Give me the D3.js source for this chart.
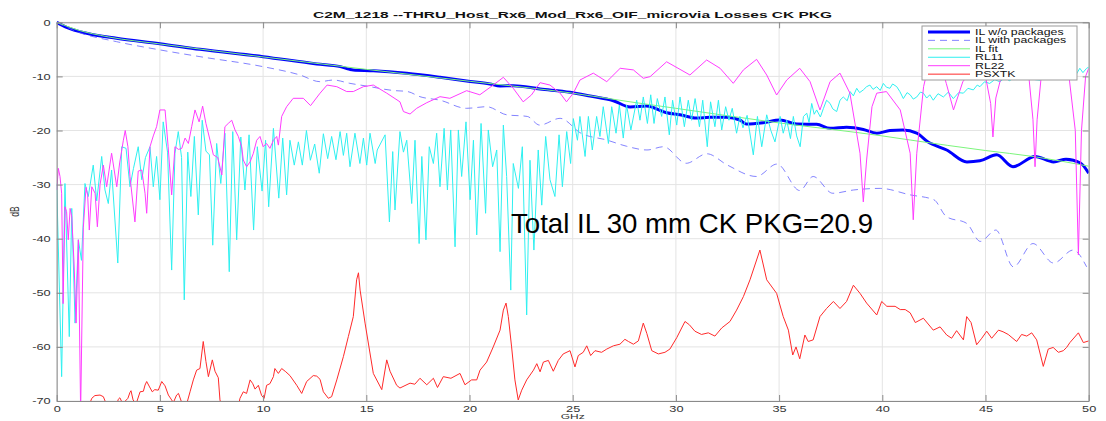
<!DOCTYPE html>
<html lang="en">
<head>
<meta charset="UTF-8">
<meta name="viewport" content="width=device-width, initial-scale=1.0">
<title>C2M_1218 Losses CK PKG</title>
<style>
    body {
        margin: 0;
        padding: 0;
        background: #fff;
    }

    #chart {
        display: block;
        font-family: "Liberation Sans", Arial, sans-serif;
    }
</style>
</head>
<body>
<svg id="chart" width="1106" height="421"></svg>

<script src="https://d3js.org/d3.v7.min.js"></script>
<script>
    var titleText = "C2M_1218 --THRU_Host_Rx6_Mod_Rx6_OIF_microvia Losses CK PKG";
    var noteText = "Total IL 30 mm CK PKG=20.9";
    var xLabel = "GHz";
    var yLabel = "dB";

    var xTicks = [0, 5, 10, 15, 20, 25, 30, 35, 40, 45, 50];
    var yTicks = [0, -10, -20, -30, -40, -50, -60, -70];

    var seriesNames = ["IL w/o packages", "IL with packages", "IL fit", "RL11", "RL22", "PSXTK"];

    // [GHz, dB]
    var ilNoPkg = [[0, 0], [0.48, -0.92], [1.45, -2.03], [2.9, -2.96], [5, -3.95], [6.94, -5.0], [10, -6.35],
        [12.6, -7.7], [13.74, -8.2], [14.2, -8.7], [14.37, -8.8], [15.34, -8.94], [16.96, -9.43], [18.57, -10.17],
        [19.86, -10.85], [20.99, -11.4], [21.48, -11.77], [22.12, -11.71], [23.42, -12.33], [24.87, -12.94],
        [25.84, -13.62], [26.97, -14.49], [27.78, -15.65], [28.57, -15.47], [29.55, -16.71], [30.2, -17.1],
        [31.0, -17.7], [31.65, -17.56], [32.46, -17.56], [33.1, -18.06], [33.4, -18.8], [34.23, -18.56],
        [35.04, -18.06], [35.85, -18.8], [36.82, -18.86], [37.47, -19.6], [38.27, -19.4], [39.08, -19.8],
        [39.73, -20.5], [40.37, -20.0], [41.0, -19.9], [41.67, -20.5], [42.2, -22.1], [43.12, -23.6],
        [44.1, -25.8], [44.73, -25.6], [45.54, -24.5], [46.33, -26.7], [47.4, -24.8], [48.3, -25.8],
        [48.9, -25.3], [49.6, -26.0], [50, -27.9]];

    var ilWithPkg = [[0, 0], [0.97, -1.73], [2.9, -3.58], [5, -5.1], [6.94, -6.35], [10, -8.2], [11.79, -9.74],
        [12.75, -10.97], [13.4, -10.67], [14.2, -11.28], [15.0, -11.78], [16.3, -12.6], [17.0, -12.8],
        [17.6, -13.75], [18.57, -14.4], [19.86, -15.9], [20.83, -15.6], [21.8, -17.1], [22.8, -17.4],
        [23.4, -19.0], [24.39, -17.75], [25.4, -20.5], [26.65, -21.76], [27.6, -22.9], [28.6, -23.6],
        [29.4, -23.0], [30.5, -26.06], [31.5, -24.3], [32.5, -26.4], [33.9, -28.5], [34.9, -26.2],
        [36.0, -31.1], [36.65, -28.5], [37.6, -31.6], [38.6, -31.0], [39.9, -30.7], [41.35, -31.9],
        [42.5, -32.8], [43.1, -35.9], [44.1, -37.2], [44.75, -40.5], [45.5, -38.4], [46.35, -45.2],
        [47.3, -40.9], [48.3, -44.5], [49.25, -42.1], [49.9, -45.2]];

    var ilFit = [[0, 0], [1, -1.4], [2.5, -2.7], [5, -4.0], [10, -6.4], [15, -8.7], [20, -10.9], [25, -13.1],
        [27.78, -14.7], [30, -15.9], [35, -18.6], [40, -21.0], [41.35, -21.76], [45, -23.7], [47.3, -24.8],
        [50, -26.6]];

    var rl11 = [[0, -29.8], [0.24, -65.5], [0.4, -29.8], [0.61, -58.1], [0.73, -34.4], [0.89, -55.6], [1.05, -40.2],
        [1.2, -44.0], [1.37, -29.8], [1.53, -32.2], [1.77, -26.4], [1.94, -33.0], [2.18, -24.8], [2.34, -31.0],
        [2.5, -33.5], [2.66, -27.3], [2.96, -44.5], [3.15, -23.0], [3.36, -23.3], [3.55, -30.4], [3.72, -27.0],
        [3.95, -23.0], [4.12, -29.1], [4.3, -25.0], [4.52, -23.0], [4.68, -30.4], [4.84, -24.8], [5.0, -32.8],
        [5.16, -18.4], [5.37, -24.0], [5.57, -45.8], [5.73, -24.2], [5.89, -20.2], [6.05, -25.0], [6.18, -51.3],
        [6.35, -24.0], [6.5, -32.2], [6.67, -21.1], [6.86, -35.6], [7.05, -18.1], [7.23, -23.8], [7.4, -24.5],
        [7.56, -41.2], [7.75, -22.4], [7.95, -29.8], [8.15, -20.5], [8.36, -46.1], [8.53, -20.2], [8.72, -40.2],
        [8.92, -21.2], [9.12, -31.0], [9.32, -20.8], [9.54, -38.4], [9.72, -23.0], [9.95, -31.2], [10.12, -21.8],
        [10.27, -34.1], [10.5, -19.6], [10.76, -32.5], [10.95, -21.4], [11.14, -31.9], [11.3, -21.8],
        [11.51, -26.4], [11.71, -22.1], [11.9, -26.4], [12.1, -20.0], [12.29, -25.5], [12.5, -22.5],
        [12.72, -27.9], [12.92, -20.6], [13.13, -25.2], [13.32, -21.1], [13.53, -25.4], [13.73, -20.2],
        [13.89, -24.6], [14.05, -20.5], [14.21, -26.7], [14.45, -20.5], [14.69, -26.1], [14.86, -21.4],
        [15.02, -26.4], [15.18, -20.5], [15.43, -26.1], [15.53, -23.6], [15.91, -20.8], [16.12, -36.9],
        [16.28, -23.9], [16.39, -34.7], [16.63, -20.2], [16.8, -24.0], [16.96, -21.8], [17.2, -33.5],
        [17.36, -21.8], [17.56, -40.9], [17.69, -24.8], [17.89, -40.2], [18.05, -23.0], [18.25, -26.1],
        [18.41, -20.5], [18.57, -30.4], [18.77, -19.6], [18.93, -31.0], [19.09, -19.9], [19.3, -41.5],
        [19.46, -19.9], [19.62, -28.5], [19.83, -18.4], [20.03, -32.8], [20.19, -21.8], [20.35, -39.3],
        [20.56, -18.7], [20.78, -35.3], [20.91, -19.9], [21.12, -26.7], [21.32, -23.6], [21.48, -42.4],
        [21.64, -19.0], [21.8, -28.5], [22.0, -49.5], [22.12, -26.1], [22.37, -30.7], [22.56, -23.0],
        [22.77, -54.1], [22.93, -25.5], [23.12, -42.1], [23.33, -23.6], [23.5, -33.8], [23.69, -21.1],
        [23.9, -29.1], [24.14, -32.2], [24.34, -20.8], [24.5, -30.4], [24.71, -20.2], [24.9, -26.1],
        [25.03, -17.8], [25.23, -21.8], [25.35, -17.4], [25.6, -24.8], [25.76, -17.4], [25.95, -23.6],
        [26.16, -17.4], [26.32, -21.1], [26.48, -15.6], [26.73, -22.4], [26.89, -15.6], [27.1, -20.5],
        [27.26, -15.3], [27.45, -21.4], [27.61, -15.3], [27.82, -19.9], [28.1, -14.4], [28.26, -18.1],
        [28.42, -13.8], [28.62, -18.7], [28.78, -13.4], [28.94, -18.7], [29.1, -14.1], [29.31, -17.4],
        [29.47, -13.8], [29.68, -20.8], [29.84, -14.4], [30.04, -19.0], [30.2, -13.8], [30.41, -19.3],
        [30.6, -14.4], [30.76, -18.1], [30.93, -14.1], [31.14, -19.3], [31.3, -14.4], [31.52, -23.0],
        [31.68, -14.7], [31.89, -19.3], [32.06, -14.4], [32.22, -19.9], [32.41, -15.6], [32.57, -18.1],
        [32.73, -15.9], [32.94, -20.5], [33.1, -17.4], [33.25, -19.5], [33.45, -17.2], [33.75, -24.5],
        [33.95, -17.4], [34.16, -23.0], [34.4, -17.1], [34.6, -20.0], [34.8, -22.1], [35.05, -17.4],
        [35.2, -20.5], [35.37, -18.1], [35.55, -21.5], [35.69, -17.4], [35.85, -21.0], [36.02, -23.0],
        [36.18, -17.4], [36.34, -16.8], [36.45, -18.5], [36.58, -15.0], [36.7, -17.0], [36.82, -16.2],
        [37.0, -17.5], [37.15, -15.9], [37.3, -14.4], [37.47, -15.0], [37.6, -16.0], [37.79, -16.5],
        [37.95, -14.4], [38.11, -13.8], [38.3, -14.5], [38.44, -12.8], [38.6, -13.6], [38.76, -12.2],
        [38.9, -13.0], [39.08, -12.5], [39.24, -11.9], [39.4, -11.6], [39.55, -12.4], [39.73, -11.9],
        [39.9, -12.6], [40.05, -11.3], [40.2, -12.0], [40.37, -12.2], [40.5, -11.4], [40.7, -11.9],
        [40.85, -12.8], [41.02, -14.1], [41.2, -13.0], [41.35, -13.4], [41.5, -14.2], [41.67, -13.8],
        [41.85, -12.9], [41.99, -13.1], [42.15, -14.0], [42.3, -13.4], [42.47, -14.4], [42.7, -13.2],
        [42.96, -13.8], [43.2, -12.9], [43.44, -14.1], [43.7, -13.0], [43.93, -13.1], [44.15, -12.2],
        [44.41, -12.5], [44.6, -11.6], [44.73, -11.9], [44.95, -11.0], [45.2, -11.3], [45.45, -10.6],
        [45.7, -11.0], [45.95, -10.2], [46.15, -10.8], [46.35, -10.4], [46.6, -9.8], [46.8, -10.5],
        [47.0, -10.1], [47.2, -9.7], [47.4, -10.6], [47.64, -10.7], [47.85, -9.8], [48.05, -10.3],
        [48.28, -9.7], [48.5, -10.2], [48.7, -9.4], [48.93, -9.6], [49.1, -8.6], [49.25, -8.8], [49.4, -9.6],
        [49.57, -8.5], [49.72, -9.3], [49.9, -8.5], [50, -8.3]];

    var rl22 = [[0, -31.0], [0.08, -27.0], [0.16, -28.5], [0.24, -31.6], [0.31, -52.0], [0.4, -34.1],
        [0.48, -35.0], [0.56, -40.2], [0.65, -34.4], [0.73, -36.0], [0.84, -44.5], [0.94, -55.6], [1.05, -40.2],
        [1.16, -72], [1.29, -38.0], [1.42, -30.5], [1.5, -32.0], [1.58, -38.4], [1.7, -30.4], [1.86, -31.6],
        [1.97, -37.8], [2.1, -30.0], [2.26, -26.4], [2.42, -30.4], [2.66, -24.2], [2.91, -30.4], [3.05, -26.0],
        [3.23, -21.8], [3.32, -20.0], [3.45, -23.0], [3.55, -28.5], [3.79, -36.9], [3.95, -27.5], [4.12, -27.3],
        [4.28, -31.6], [4.36, -35.3], [4.52, -23.0], [4.68, -21.0], [4.84, -19.3], [5.0, -16.2], [5.25, -16.2],
        [5.4, -23.0], [5.57, -31.9], [5.73, -23.0], [5.9, -23.5], [6.06, -23.3], [6.22, -21.4], [6.38, -22.4],
        [6.54, -19.3], [6.7, -16.2], [6.9, -18.4], [7.07, -15.5], [7.23, -18.7], [7.43, -21.8], [7.59, -24.5],
        [7.8, -25.0], [8.0, -28.2], [8.15, -19.3], [8.31, -18.7], [8.48, -18.1], [8.64, -19.9], [8.8, -21.1],
        [8.96, -23.0], [9.04, -25.45], [9.2, -26.7], [9.37, -25.8], [9.53, -24.2], [9.69, -21.8], [9.85, -21.1],
        [10.0, -23.0], [10.17, -22.4], [10.33, -23.3], [10.5, -21.8], [10.66, -21.1], [10.74, -22.7],
        [10.9, -17.4], [11.14, -15.6], [11.46, -14.05], [11.95, -14.05], [12.3, -15.4], [12.76, -13.1],
        [13.1, -11.6], [13.57, -11.9], [14.05, -12.8], [14.37, -12.8], [14.86, -11.9], [15.34, -11.6],
        [15.99, -13.1], [16.63, -14.7], [16.8, -16.5], [17.12, -16.95], [17.44, -15.9], [17.93, -14.86],
        [18.57, -13.75], [19.05, -14.05], [19.86, -12.64], [20.5, -13.4], [21.15, -11.6], [21.64, -10.17],
        [22.12, -12.2], [22.6, -14.7], [23.0, -13.44], [23.42, -11.16], [23.9, -11.6], [24.39, -13.1],
        [24.7, -14.7], [25.03, -13.1], [25.35, -10.67], [26.0, -9.4], [26.65, -10.97], [27.3, -8.5],
        [27.94, -8.8], [28.42, -10.35], [28.75, -10.05], [29.55, -7.3], [30.2, -8.7], [30.68, -9.74],
        [31.49, -6.97], [32.14, -8.5], [32.78, -11.28], [33.27, -8.8], [33.91, -6.85], [34.4, -9.74],
        [34.88, -13.44], [35.37, -10.67], [36.0, -8.5], [36.5, -10.97], [36.98, -16.2], [37.47, -10.97],
        [37.95, -9.4], [38.43, -13.1], [38.92, -24.2], [39.08, -33.2], [39.24, -25.45], [39.5, -15.6],
        [39.73, -13.1], [40.2, -12.8], [40.87, -16.2], [41.35, -24.2], [41.5, -36.5], [41.67, -24.2],
        [42.0, -11.9], [42.3, -6.97], [42.7, -6.0], [43.1, -11.3], [43.45, -16.2], [43.9, -11.0], [44.5, -8.0],
        [45.0, -10.0], [45.25, -15.0], [45.36, -21.2], [45.5, -14.0], [45.8, -9.5], [46.5, -7.0], [47.1, -10.0],
        [47.3, -18.0], [47.4, -26.7], [47.5, -18.0], [47.7, -10.0], [48.3, -6.5], [49.0, -8.5], [49.35, -20.0],
        [49.5, -43.0], [49.65, -20.0], [49.85, -10.0], [50, -8.5]];

    var psxtk = [[1.55, -71], [1.7, -69.5], [1.85, -69.0], [2.1, -68.9], [2.26, -69.2], [2.45, -71], [2.9, -71],
        [2.98, -69.7], [3.06, -69.4], [3.2, -70.5], [3.45, -69.5], [3.55, -68.4], [3.6, -68.1], [3.7, -69.8],
        [3.85, -70.5], [4.04, -68.3], [4.2, -68.2], [4.28, -67.05], [4.36, -66.4], [4.5, -67.4], [4.63, -68.3],
        [4.75, -67.9], [4.92, -68.0], [5.09, -66.4], [5.25, -67.2], [5.41, -68.9], [5.57, -69.8], [5.65, -70.3],
        [5.81, -68.9], [5.9, -68.6], [6.05, -70.2], [6.3, -70.5], [6.46, -68.3], [6.62, -66.1], [6.78, -64.3],
        [6.94, -64.0], [7.1, -59.0], [7.23, -62.7], [7.35, -65.5], [7.54, -62.4], [7.67, -64.5], [7.83, -65.7],
        [7.91, -69.8], [8.0, -71], [8.8, -71], [8.88, -69.5], [9.04, -68.3], [9.2, -68.6], [9.37, -66.1],
        [9.5, -66.8], [9.61, -67.8], [9.77, -67.1], [9.93, -69.0], [10.05, -69.5], [10.17, -67.1],
        [10.33, -66.8], [10.5, -65.5], [10.57, -64.0], [10.74, -64.9], [10.9, -64.0], [11.1, -64.6],
        [11.3, -65.3], [11.63, -67.1], [11.87, -68.6], [12.11, -66.4], [12.43, -65.3], [12.6, -65.4],
        [12.76, -66.0], [12.92, -68.3], [13.16, -69.5], [13.32, -69.2], [13.57, -66.1], [13.89, -61.8],
        [14.13, -58.1], [14.37, -54.4], [14.53, -47.6], [14.62, -46.3], [14.7, -49.5], [14.94, -55.6],
        [15.34, -64.9], [15.75, -67.9], [15.99, -62.4], [16.15, -64.5], [16.47, -67.1], [16.63, -67.6],
        [17.12, -66.7], [17.35, -66.9], [17.6, -65.8], [17.93, -67.0], [18.25, -65.8], [18.45, -67.5],
        [18.73, -65.5], [19.1, -65.8], [19.54, -64.9], [19.78, -67.0], [20.1, -66.1], [20.35, -66.1],
        [20.51, -64.3], [20.83, -62.8], [21.15, -60.0], [21.48, -56.9], [21.64, -53.2], [21.77, -51.9],
        [21.88, -54.4], [22.04, -60.0], [22.2, -66.1], [22.36, -69.8], [22.53, -68.0], [22.77, -66.1],
        [23.1, -64.3], [23.26, -63.1], [23.42, -64.6], [23.58, -62.8], [23.82, -62.5], [24.06, -64.5],
        [24.3, -62.5], [24.54, -61.3], [24.87, -60.7], [25.11, -63.7], [25.27, -61.6], [25.51, -61.0],
        [25.68, -59.8], [25.87, -61.6], [26.08, -60.7], [26.4, -61.0], [26.65, -60.4], [26.97, -59.8],
        [27.29, -59.5], [27.53, -58.6], [27.7, -59.0], [27.94, -59.5], [28.18, -58.9], [28.42, -55.6],
        [28.59, -57.5], [28.83, -60.7], [29.15, -61.3], [29.47, -61.0], [29.71, -60.4], [30.04, -58.3],
        [30.44, -55.3], [30.65, -55.9], [30.92, -57.1], [31.24, -57.7], [31.57, -57.4], [31.89, -58.0],
        [32.22, -56.5], [32.62, -55.3], [32.94, -53.2], [33.27, -50.7], [33.59, -47.6], [34.07, -42.1],
        [34.4, -47.6], [34.88, -50.1], [35.2, -54.4], [35.45, -56.9], [35.66, -61.5], [35.82, -60.0],
        [36.0, -62.2], [36.25, -57.8], [36.41, -59.0], [36.65, -58.7], [36.98, -54.4], [37.3, -52.9],
        [37.63, -51.6], [37.95, -52.9], [38.27, -51.6], [38.6, -48.6], [38.92, -50.1], [39.24, -51.9],
        [39.73, -54.1], [39.97, -51.6], [40.22, -52.5], [40.62, -52.5], [40.87, -53.1], [41.11, -53.1],
        [41.35, -53.7], [41.6, -55.5], [41.99, -54.7], [42.47, -56.9], [42.8, -56.3], [43.12, -57.8],
        [43.36, -58.4], [43.6, -57.0], [43.93, -58.7], [44.09, -54.4], [44.3, -55.5], [44.57, -59.6],
        [44.82, -58.4], [45.06, -57.1], [45.3, -58.4], [45.63, -56.9], [45.85, -57.2], [46.1, -57.7],
        [46.51, -59.0], [46.75, -57.7], [47.0, -58.0], [47.24, -57.4], [47.48, -58.7], [47.8, -63.6],
        [48.04, -60.4], [48.28, -60.1], [48.53, -61.0], [48.77, -60.7], [48.93, -60.1], [49.09, -59.2],
        [49.5, -57.4], [49.74, -59.2], [50, -58.9]];

    var seriesData = [ilNoPkg, ilWithPkg, ilFit, rl11, rl22, psxtk];
    var seriesStyle = [
        {color: "#0000ff", width: 3, dash: null, opacity: 1},
        {color: "#5a5aff", width: 1, dash: "7,5", opacity: 0.75},
        {color: "#7cf57c", width: 1, dash: null, opacity: 1},
        {color: "#2ef0f0", width: 1, dash: null, opacity: 1},
        {color: "#ff3cff", width: 1, dash: null, opacity: 1},
        {color: "#ff2a2a", width: 1, dash: null, opacity: 1}
    ];

    var plot = {left: 56.7, right: 1088.7, top: 22.3, bottom: 401};
    var textScale = 1.5;

    var svg = d3.select("#chart");

    var x = d3.scaleLinear().domain([0, 50]).range([plot.left, plot.right]);
    var y = d3.scaleLinear().domain([-70, 0]).range([plot.bottom, plot.top]);

    svg.append("defs").append("clipPath")
        .attr("id", "plot-clip")
        .append("rect")
        .attr("x", plot.left)
        .attr("y", plot.top - 1.5)
        .attr("width", plot.right - plot.left)
        .attr("height", plot.bottom - plot.top + 1.5);

    // grid
    var grid = svg.append("g").attr("class", "grid");
    grid.selectAll("line.gx").data(xTicks)
        .enter().append("line")
        .attr("x1", d => x(d)).attr("x2", d => x(d))
        .attr("y1", plot.top).attr("y2", plot.bottom)
        .attr("stroke", "#e4e4e4").attr("stroke-width", 1);
    grid.selectAll("line.gy").data(yTicks)
        .enter().append("line")
        .attr("x1", plot.left).attr("x2", plot.right)
        .attr("y1", d => y(d)).attr("y2", d => y(d))
        .attr("stroke", "#e4e4e4").attr("stroke-width", 1);

    // series
    var line = d3.line()
        .x(d => x(d[0]))
        .y(d => y(d[1]));

    var lines = svg.append("g").attr("clip-path", "url(#plot-clip)");
    seriesData.forEach(function (data, i) {
        var st = seriesStyle[i];
        lines.append("path")
            .datum(data)
            .attr("d", line.curve(i < 3 ? d3.curveMonotoneX : d3.curveLinear))
            .attr("fill", "none")
            .attr("stroke", st.color)
            .attr("stroke-width", st.width)
            .attr("stroke-opacity", st.opacity)
            .attr("stroke-dasharray", st.dash)
            .attr("stroke-linejoin", "round");
    });

    // axes, ticks pointing inward like matlab
    function styleAxis(g) {
        g.selectAll(".domain").attr("stroke", "#8a8a8a").attr("stroke-width", 1);
        g.selectAll(".tick line").attr("stroke", "#8a8a8a");
        g.selectAll("text")
            .attr("fill", "#333")
            .style("font-size", "8.5px")
            .attr("transform", "scale(" + textScale + ",1)");
    }

    var fmt = d => d3.format("d")(d).replace("\u2212", "-");

    svg.append("g")
        .attr("transform", "translate(0," + plot.bottom + ")")
        .call(d3.axisBottom(x).tickValues(xTicks).tickSizeInner(-6).tickSizeOuter(0).tickPadding(5).tickFormat(fmt))
        .call(styleAxis);

    svg.append("g")
        .attr("transform", "translate(" + plot.left + ",0)")
        .call(d3.axisLeft(y).tickValues(yTicks).tickSizeInner(-6).tickSizeOuter(0).tickPadding(4).tickFormat(fmt))
        .call(styleAxis);

    svg.append("g")
        .attr("transform", "translate(0," + plot.top + ")")
        .call(d3.axisTop(x).tickValues(xTicks).tickSizeInner(-6).tickSizeOuter(0).tickFormat(""))
        .call(styleAxis);

    svg.append("g")
        .attr("transform", "translate(" + plot.right + ",0)")
        .call(d3.axisRight(y).tickValues(yTicks).tickSizeInner(-6).tickSizeOuter(0).tickFormat(""))
        .call(styleAxis);

    // axis labels
    svg.append("text")
        .attr("transform", "translate(" + ((plot.left + plot.right) / 2) + ",418.5) scale(" + textScale + ",1)")
        .attr("text-anchor", "middle")
        .attr("fill", "#333")
        .style("font-size", "8px")
        .text(xLabel);

    svg.append("text")
        .attr("transform", "translate(19," + y(-35) + ") scale(" + textScale + ",1) rotate(-90)")
        .attr("text-anchor", "middle")
        .attr("fill", "#333")
        .style("font-size", "8.5px")
        .text(yLabel);

    // title
    svg.append("text")
        .attr("x", 313)
        .attr("y", 18.3)
        .attr("textLength", 519)
        .attr("lengthAdjust", "spacingAndGlyphs")
        .attr("fill", "#111")
        .style("font-size", "8.5px")
        .style("font-weight", "bold")
        .text(titleText);

    // annotation from the slide
    svg.append("text")
        .attr("x", 511)
        .attr("y", 233)
        .attr("textLength", 362)
        .attr("lengthAdjust", "spacingAndGlyphs")
        .attr("fill", "#000")
        .style("font-size", "27.5px")
        .text(noteText);

    // legend
    var legend = svg.append("g").attr("class", "legend");
    legend.append("rect")
        .attr("x", 922).attr("y", 26)
        .attr("width", 155).attr("height", 54)
        .attr("fill", "#fff")
        .attr("stroke", "#9a9a9a")
        .attr("stroke-width", 1);

    seriesNames.forEach(function (name, i) {
        var st = seriesStyle[i];
        var ly = 31.9 + i * 8.45;
        legend.append("line")
            .attr("x1", 928).attr("x2", 970)
            .attr("y1", ly).attr("y2", ly)
            .attr("stroke", st.color)
            .attr("stroke-width", st.width)
            .attr("stroke-opacity", st.opacity)
            .attr("stroke-dasharray", st.dash);
        legend.append("text")
            .attr("transform", "translate(975," + ly + ") scale(1.45,1)")
            .attr("dy", "0.35em")
            .attr("fill", "#111")
            .style("font-size", "8.5px")
            .text(name);
    });
</script>
</body>
</html>
